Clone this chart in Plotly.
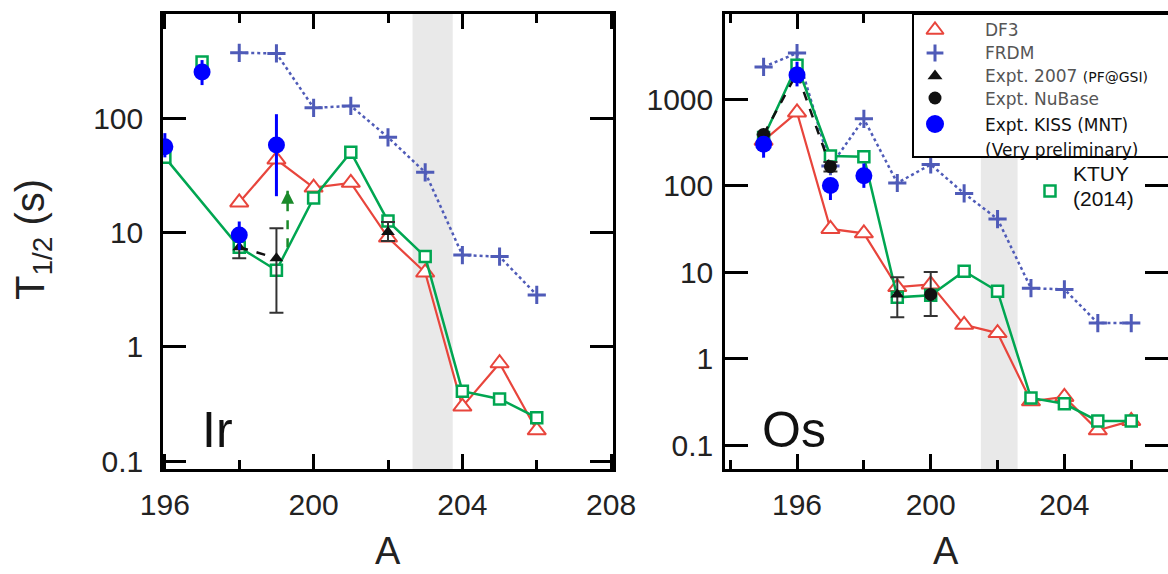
import plotly.graph_objects as go

W, H = 1168, 574

# ---------------- data : Ir panel ----------------
ir_df3_A = [198, 199, 200, 201, 202, 203, 204, 205, 206]
ir_df3_T = [18.5, 44, 25, 27.5, 9.1, 4.5, 0.30, 0.72, 0.186]

ir_frdm_A = [198, 199, 200, 201, 202, 203, 204, 205, 206]
ir_frdm_T = [380, 375, 125, 130, 69, 34, 6.4, 6.2, 2.86]

ir_ktuy_A = [196, 198, 199, 200, 201, 202, 203, 204, 205, 206]
ir_ktuy_T = [46, 7.5, 4.7, 20.3, 51, 12.7, 6.2, 0.41, 0.35, 0.24]
ir_ktuy_iso_A = [197]
ir_ktuy_iso_T = [316]

ir_e2007_A = [198, 199, 202]
ir_e2007_T = [7.5, 6.0, 10.2]
ir_e2007_up = [1.5, 5.0, 2.3]
ir_e2007_dn = [1.5, 4.0, 1.7]

ir_kiss_A = [196, 197, 198, 199]
ir_kiss_T = [57, 258, 9.6, 59]
ir_kiss_up = [18, 70, 3.0, 51]
ir_kiss_dn = [11, 60, 2.5, 38]

ir_arrow_A = [199.3, 199.3]
ir_arrow_T = [7.5, 23.5]

ir_band = [202.66, 203.74]

# ---------------- data : Os panel ----------------
os_df3_A = [195, 196, 197, 198, 199, 200, 201, 202, 203, 204, 205, 206]
os_df3_T = [330, 700, 31.5, 28, 6.7, 7.2, 2.45, 1.97, 0.32, 0.36, 0.148, 0.19]

os_frdm_A = [195, 196, 197, 198, 199, 200, 201, 202, 203, 204, 205, 206]
os_frdm_T = [2350, 3400, 168, 590, 107, 175, 81, 41, 6.5, 6.3, 2.57, 2.57]

os_ktuy_A = [195, 196, 197, 198, 199, 200, 201, 202, 203, 204, 205, 206]
os_ktuy_T = [360, 2450, 220, 215, 5.1, 5.4, 10.2, 6.0, 0.35, 0.30, 0.19, 0.19]

os_e2007_A = [199]
os_e2007_T = [5.5]
os_e2007_up = [3.2]
os_e2007_dn = [2.5]

os_nub_A = [195, 196, 197, 200]
os_nub_T = [390, 2000, 165, 5.5]
os_nub_up = [0, 0, 22, 4.5]
os_nub_dn = [0, 0, 20, 2.4]

os_kiss_A = [195, 196, 197, 198]
os_kiss_T = [300, 1900, 100, 130]
os_kiss_up = [60, 800, 20, 50]
os_kiss_dn = [90, 500, 32, 36]

os_band = [201.5, 202.6]

# ---------------- styles ----------------
RED = "#e8453c"
BLUE = "#4f5bb8"
GREEN = "#00a651"
KISS = "#0000ff"
BLK = "#111111"
ERR = "#333333"
ARROW = "#1a8a2a"

fig = go.Figure()


def panel(xa, ya, df3, frdm, ktuy, ktuy_iso, e07, e07_line_n, nub, nub_line_n, kiss):
    # FRDM
    fig.add_trace(go.Scatter(x=frdm[0], y=frdm[1], xaxis=xa, yaxis=ya, mode="lines+markers",
                             line=dict(color=BLUE, width=2.5, dash="dot"),
                             marker=dict(symbol="cross-thin", size=13, color=BLUE,
                                         line=dict(width=3, color=BLUE)),
                             showlegend=False))
    # DF3
    fig.add_trace(go.Scatter(x=df3[0], y=df3[1], xaxis=xa, yaxis=ya, mode="lines+markers",
                             line=dict(color=RED, width=2.2),
                             marker=dict(symbol="triangle-up", size=16, color="white",
                                         line=dict(width=2, color=RED)),
                             showlegend=False))
    # KTUY
    fig.add_trace(go.Scatter(x=ktuy[0], y=ktuy[1], xaxis=xa, yaxis=ya, mode="lines+markers",
                             line=dict(color=GREEN, width=2.5),
                             marker=dict(symbol="square", size=11, color="white",
                                         line=dict(width=2.5, color=GREEN)),
                             showlegend=False))
    if ktuy_iso is not None:
        fig.add_trace(go.Scatter(x=ktuy_iso[0], y=ktuy_iso[1], xaxis=xa, yaxis=ya, mode="markers",
                                 marker=dict(symbol="square", size=11, color="white",
                                             line=dict(width=2.5, color=GREEN)),
                                 showlegend=False))
    # Expt 2007 (triangles)
    if e07 is not None:
        if e07_line_n > 1:
            fig.add_trace(go.Scatter(x=e07[0][:e07_line_n], y=e07[1][:e07_line_n], xaxis=xa, yaxis=ya,
                                     mode="lines", line=dict(color=BLK, width=2.5, dash="dash"),
                                     showlegend=False))
        fig.add_trace(go.Scatter(x=e07[0], y=e07[1], xaxis=xa, yaxis=ya, mode="markers",
                                 marker=dict(symbol="triangle-up", size=12, color=BLK),
                                 error_y=dict(type="data", symmetric=False, array=e07[2],
                                              arrayminus=e07[3], color=ERR, thickness=2, width=7),
                                 showlegend=False))
    # Expt NuBase (circles)
    if nub is not None:
        if nub_line_n > 1:
            fig.add_trace(go.Scatter(x=nub[0][:nub_line_n], y=nub[1][:nub_line_n], xaxis=xa, yaxis=ya,
                                     mode="lines", line=dict(color=BLK, width=2.5, dash="dash"),
                                     showlegend=False))
        fig.add_trace(go.Scatter(x=nub[0], y=nub[1], xaxis=xa, yaxis=ya, mode="markers",
                                 marker=dict(symbol="circle", size=13, color=BLK),
                                 error_y=dict(type="data", symmetric=False, array=nub[2],
                                              arrayminus=nub[3], color=ERR, thickness=2, width=7),
                                 showlegend=False))
    # KISS
    fig.add_trace(go.Scatter(x=kiss[0], y=kiss[1], xaxis=xa, yaxis=ya, mode="markers",
                             marker=dict(symbol="circle", size=17, color=KISS),
                             error_y=dict(type="data", symmetric=False, array=kiss[2],
                                          arrayminus=kiss[3], color=KISS, thickness=3, width=0),
                             showlegend=False))


panel("x", "y",
      (ir_df3_A, ir_df3_T), (ir_frdm_A, ir_frdm_T), (ir_ktuy_A, ir_ktuy_T),
      (ir_ktuy_iso_A, ir_ktuy_iso_T),
      (ir_e2007_A, ir_e2007_T, ir_e2007_up, ir_e2007_dn), 2,
      None, 0,
      (ir_kiss_A, ir_kiss_T, ir_kiss_up, ir_kiss_dn))

# dashed green arrow (Ir): stem + head
fig.add_trace(go.Scatter(x=ir_arrow_A, y=ir_arrow_T, xaxis="x", yaxis="y", mode="lines",
                         line=dict(color=ARROW, width=2.5, dash="dash"), showlegend=False))
fig.add_trace(go.Scatter(x=ir_arrow_A[1:], y=ir_arrow_T[1:], xaxis="x", yaxis="y", mode="markers",
                         marker=dict(symbol="arrow-up", size=13, color=ARROW), showlegend=False))

panel("x2", "y2",
      (os_df3_A, os_df3_T), (os_frdm_A, os_frdm_T), (os_ktuy_A, os_ktuy_T),
      None,
      (os_e2007_A, os_e2007_T, os_e2007_up, os_e2007_dn), 0,
      (os_nub_A, os_nub_T, os_nub_up, os_nub_dn), 3,
      (os_kiss_A, os_kiss_T, os_kiss_up, os_kiss_dn))

# ---------------- legend (pixel-space overlay axis) ----------------
LX = 935
leg_items = [
    dict(y=30, symbol="triangle-up", size=15, color="white", lc=RED, lw=2),
    dict(y=53, symbol="cross-thin", size=12, color=BLUE, lc=BLUE, lw=3),
    dict(y=76, symbol="triangle-up", size=13, color=BLK, lc=BLK, lw=0),
    dict(y=98, symbol="circle", size=13, color=BLK, lc=BLK, lw=0),
    dict(y=124, symbol="circle", size=18, color=KISS, lc=KISS, lw=0),
]
for it in leg_items:
    fig.add_trace(go.Scatter(x=[LX], y=[it["y"]], xaxis="x3", yaxis="y3", mode="markers",
                             marker=dict(symbol=it["symbol"], size=it["size"], color=it["color"],
                                         line=dict(width=it["lw"], color=it["lc"])),
                             showlegend=False, hoverinfo="skip"))
fig.add_trace(go.Scatter(x=[1050], y=[191], xaxis="x3", yaxis="y3", mode="markers",
                         marker=dict(symbol="square", size=11, color="white",
                                     line=dict(width=2.5, color=GREEN)),
                         showlegend=False, hoverinfo="skip"))

TXT = 983
LFONT = dict(family="DejaVu Sans", size=17, color="#555555")
anns = [
    dict(x=TXT, y=30, text="DF3", font=LFONT),
    dict(x=TXT, y=53, text="FRDM", font=LFONT),
    dict(x=TXT, y=76, text="Expt. 2007 <span style='font-size:14px;color:#111'>(PF@GSI)</span>", font=LFONT),
    dict(x=TXT, y=99, text="Expt. NuBase", font=LFONT),
    dict(x=TXT, y=125, text="Expt. KISS (MNT)", font=dict(family="DejaVu Sans", size=17, color="#111")),
    dict(x=TXT, y=150, text="(Very preliminary)", font=dict(family="DejaVu Sans", size=17, color="#111")),
    dict(x=1071, y=173, text="KTUY", font=dict(family="Liberation Sans", size=21, color="#111")),
    dict(x=1071, y=198, text="(2014)", font=dict(family="Liberation Sans", size=21, color="#111")),
    dict(x=200, y=430, text="Ir", font=dict(family="Liberation Sans", size=50, color="#111")),
    dict(x=760, y=430, text="Os", font=dict(family="Liberation Sans", size=50, color="#111")),
]
annotations = []
for a in anns:
    annotations.append(dict(xref="x3", yref="y3", x=a["x"], y=a["y"], text=a["text"], font=a["font"],
                            showarrow=False, xanchor="left", yanchor="middle"))
# axis titles
annotations.append(dict(xref="x3", yref="y3", x=33, y=240, text="T<sub>1/2</sub> (s)", textangle=-90,
                        font=dict(family="Liberation Sans", size=40, color="#222"), showarrow=False,
                        xanchor="center", yanchor="middle"))
for cx in (388, 946):
    annotations.append(dict(xref="x3", yref="y3", x=cx, y=573, text="A",
                            font=dict(family="Liberation Sans", size=38, color="#222"), showarrow=False,
                            xanchor="center", yanchor="bottom", borderpad=0))

shapes = [
    dict(type="rect", xref="x", yref="y domain", x0=ir_band[0], x1=ir_band[1], y0=0, y1=1,
         fillcolor="#e9e9e9", line=dict(width=0), layer="below"),
    dict(type="rect", xref="x2", yref="y2 domain", x0=os_band[0], x1=os_band[1], y0=0, y1=1,
         fillcolor="#e9e9e9", line=dict(width=0), layer="below"),
    # legend box
    dict(type="rect", xref="x3", yref="y3", x0=913, x1=1200, y0=14, y1=157,
         fillcolor="white", line=dict(width=2, color="black"), layer="below"),
]

TICKFONT = dict(family="Liberation Sans", size=30, color="#222")


def xax(dom, rng):
    return dict(domain=dom, range=rng, tickmode="linear", tick0=196, dtick=4,
                ticks="inside", ticklen=15, tickwidth=2.5, tickcolor="black",
                minor=dict(tickmode="linear", tick0=196, dtick=2, ticks="inside", ticklen=9,
                           tickwidth=2.5, tickcolor="black"),
                showline=True, linewidth=2.5, linecolor="black", mirror="ticks",
                showgrid=False, zeroline=False, tickfont=TICKFONT, ticklabelstandoff=7,
                automargin=False, fixedrange=True)


def yax(dom, rng, vals, anchor, standoff):
    return dict(domain=dom, type="log", range=rng, tickmode="array", tickvals=vals,
                ticktext=[("%g" % v) for v in vals],
                ticks="inside", ticklen=23, tickwidth=2.5, tickcolor="black",
                showline=True, linewidth=2.5, linecolor="black", mirror="ticks",
                showgrid=False, zeroline=False, tickfont=TICKFONT, anchor=anchor,
                ticklabelstandoff=standoff, automargin=False, fixedrange=True)


ydom = [1 - 469 / H, 1 - 14 / H]
fig.update_layout(
    width=W, height=H, margin=dict(l=0, r=0, t=0, b=0),
    paper_bgcolor="white", plot_bgcolor="rgba(0,0,0,0)",
    showlegend=False,
    xaxis=dict(**xax([163 / W, 613 / W], [195.95, 208.05]), anchor="y"),
    yaxis=yax(ydom, [-1.07, 2.92], [0.1, 1, 10, 100], "x", 11),
    xaxis2=dict(**xax([725 / W, 1.0], [193.845, 207.10]), anchor="y2"),
    yaxis2=yax(ydom, [-1.277, 3.983], [0.1, 1, 10, 100, 1000], "x2", 3),
    xaxis3=dict(domain=[0, 1], range=[0, W], visible=False, anchor="y3", fixedrange=True),
    yaxis3=dict(domain=[0, 1], range=[H, 0], visible=False, anchor="x3", fixedrange=True),
    shapes=shapes, annotations=annotations,
)

fig.write_html("out.html")
